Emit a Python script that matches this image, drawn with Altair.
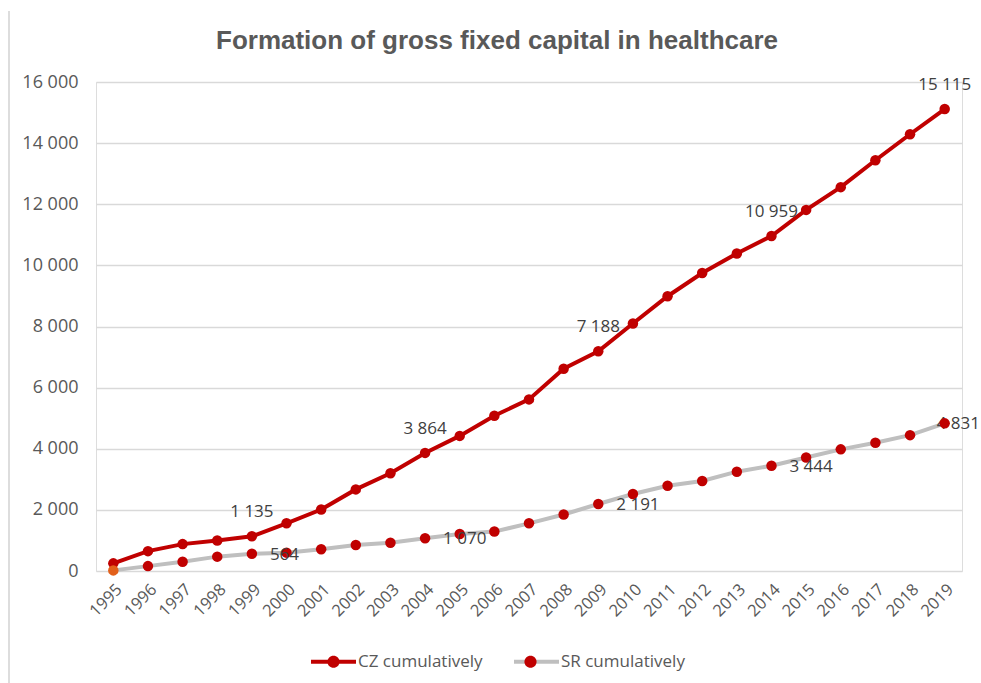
import altair as alt
import pandas as pd

years = ["1995", "1996", "1997", "1998", "1999", "2000", "2001", "2002", "2003", "2004",
         "2005", "2006", "2007", "2008", "2009", "2010", "2011", "2012", "2013", "2014",
         "2015", "2016", "2017", "2018", "2019"]
cz_values = [250, 650, 880, 1000, 1135, 1560, 2010, 2670, 3200, 3864,
             4420, 5080, 5615, 6620, 7188, 8100, 8990, 9750, 10390, 10959,
             11815, 12560, 13440, 14290, 15115]
sr_values = [20, 160, 305, 470, 564, 600, 710, 850, 925, 1070,
             1210, 1290, 1560, 1850, 2191, 2520, 2790, 2945, 3250, 3444,
             3715, 3980, 4195, 4445, 4831]
series_names = ["CZ cumulatively", "SR cumulatively"]
labelled_years = ["1999", "2004", "2009", "2014", "2019"]
y_ticks = [0, 2000, 4000, 6000, 8000, 10000, 12000, 14000, 16000]
title_text = "Formation of gross fixed capital in healthcare"

rows = []
for name, vals in zip(series_names, [cz_values, sr_values]):
    for yr, v in zip(years, vals):
        lab = f"{v:,}".replace(",", " ") if yr in labelled_years else ""
        rows.append({"year": yr, "series": name, "value": v, "label": lab})
df = pd.DataFrame(rows)

FONT = "Open Sans"
TXT = "#595959"

x_enc = alt.X("year:O", sort=years,
              axis=alt.Axis(title=None, labelAngle=-45, labelFontSize=16.5, labelColor=TXT,
                            labelFont=FONT, domain=False, ticks=False, labelPadding=10, grid=False))
y_enc = alt.Y("value:Q", scale=alt.Scale(domain=[0, 16000], nice=False),
              axis=alt.Axis(title=None, values=y_ticks,
                            labelExpr="replace(format(datum.value, ','), ',', ' ')",
                            grid=True, gridColor="#D9D9D9", gridWidth=1.3,
                            domain=False, ticks=False, labelPadding=18,
                            labelFontSize=18, labelColor=TXT, labelFont=FONT))

base = alt.Chart(df)

LEG_X = 213
LEG_Y = 555
COLPAD = 23
LEG_FS = 17
LEG_OFF = 0

lines = base.mark_line(strokeWidth=4).encode(
    x=x_enc, y=y_enc,
    color=alt.Color("series:N",
                    scale=alt.Scale(domain=series_names, range=["#C00000", "#BFBFBF"]),
                    legend=alt.Legend(title=None, orient="none", direction="horizontal",
                                      legendX=LEG_X, legendY=LEG_Y,
                                      symbolType="M-1,0L1,0", symbolSize=2025,
                                      symbolStrokeWidth=4, labelFontSize=LEG_FS,
                                      labelColor=TXT, labelFont=FONT, labelOffset=LEG_OFF,
                                      columnPadding=COLPAD)),
)

points = base.mark_circle(size=110, opacity=1).encode(
    x=x_enc, y=y_enc,
    fill=alt.condition(
        "datum.year == '1995' && datum.series == 'SR cumulatively'",
        alt.value("#E2601A"),
        alt.Fill("series:N", scale=alt.Scale(range=["#C00000", "#C00000"]),
                 legend=alt.Legend(title=None, orient="none", direction="horizontal",
                                   legendX=LEG_X, legendY=LEG_Y,
                                   symbolType="M-0.27,0A0.27,0.27,0,1,1,0.27,0A0.27,0.27,0,1,1,-0.27,0Z",
                                   symbolSize=2025, symbolStrokeWidth=4,
                                   symbolStrokeColor="transparent",
                                   labelFontSize=LEG_FS, labelColor="transparent",
                                   labelFont=FONT, labelOffset=LEG_OFF, columnPadding=COLPAD)),
    ),
)

cz_labels = base.transform_filter(
    "datum.series == 'CZ cumulatively' && datum.label != ''"
).mark_text(dy=-24, fontSize=17, color="#404040", font=FONT).encode(
    x=x_enc, y=y_enc, text="label:N")

sr_labels = base.transform_filter(
    "datum.series == 'SR cumulatively' && datum.label != '' && datum.year != '2019'"
).mark_text(dx=18, dy=1, align="left", fontSize=17, color="#404040", font=FONT).encode(
    x=x_enc, y=y_enc, text="label:N")

sr_last_label = base.transform_filter(
    "datum.series == 'SR cumulatively' && datum.year == '2019'"
).mark_text(dx=-8, dy=1, align="left", fontSize=17, color="#404040", font=FONT).encode(
    x=x_enc, y=y_enc, text="label:N")

frame = alt.Chart(pd.DataFrame({"k": [0]})).mark_rule(color="#DDDDDD", strokeWidth=2).encode(
    x=alt.value(-87), y=alt.value(-71), y2=alt.value(601))

chart = alt.layer(frame, lines, sr_last_label, points, cz_labels, sr_labels).properties(
    width=866, height=489,
    title=alt.TitleParams(title_text, fontSize=26, fontWeight="bold", color=TXT,
                          font="Liberation Sans", anchor="middle", dx=-32, offset=-44),
    autosize=alt.AutoSizeParams(type="none"),
    padding={"left": 96, "top": 82, "right": 19, "bottom": 112},
).configure_view(stroke=None).configure(background="white")

chart.save("out.html", embed_options={"renderer": "svg", "actions": False})
